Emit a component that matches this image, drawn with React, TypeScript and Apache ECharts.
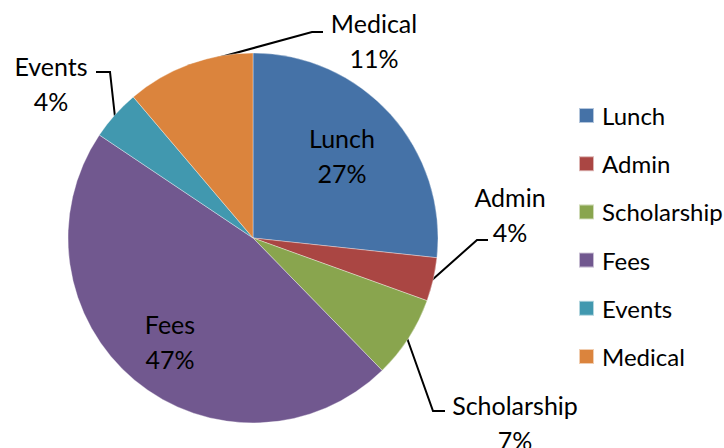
import React, { useEffect, useRef } from "react";
import * as echarts from "echarts";

const categories = ["Lunch", "Admin", "Scholarship", "Fees", "Events", "Medical"];
const values = [26.7, 3.8, 7.2, 46.7, 4.4, 11.2];
const colors = ["#4572A7", "#AA4643", "#89A54E", "#71588F", "#4198AF", "#DB843D"];
const insideLabels = ["Lunch", "Fees"];

// label layout (block centres and leader-line points), in px
const labelLayoutSpec: Record<string, { x: number; y: number; line?: number[][] }> = {
  Lunch: { x: 342, y: 155 },
  Fees: { x: 170, y: 341 },
  Admin: { x: 510, y: 214, line: [[432, 280], [477, 240], [488, 240]] },
  Scholarship: { x: 515, y: 422, line: [[407, 338], [433, 411], [445, 411]] },
  Events: { x: 51, y: 83, line: [[115, 117], [110, 72], [96, 72]] },
  Medical: { x: 374, y: 40, line: [[188, 66], [312, 32], [323, 32]] },
};

const FONT = "Lato, 'Open Sans', sans-serif";

export default function App() {
  const ref = useRef<HTMLDivElement>(null);
  useEffect(() => {
    if (!ref.current) return;
    const chart = echarts.init(ref.current, undefined, { renderer: "svg" });
    chart.setOption({
      animation: false,
      backgroundColor: "#ffffff",
      color: colors,
      legend: {
        orient: "vertical",
        left: 578,
        top: 103.5,
        padding: 0,
        icon: "rect",
        itemWidth: 15,
        itemHeight: 15,
        itemGap: 24.2,
        data: categories,
        textStyle: {
          fontFamily: FONT,
          fontSize: 24,
          lineHeight: 24,
          color: "#000",
          padding: [0, 0, 0, 3],
        },
      },
      series: [
        {
          type: "pie",
          center: [253, 238],
          radius: 185,
          startAngle: 90,
          clockwise: true,
          avoidLabelOverlap: false,
          itemStyle: { borderColor: "rgba(255,255,255,0.6)", borderWidth: 0.6 },
          label: {
            show: true,
            position: "outside",
            fontFamily: FONT,
            fontSize: 25,
            lineHeight: 35,
            color: "#000",
            align: "center",
            formatter: (p: any) => `${p.name}\n${Math.round(p.percent)}%`,
          },
          labelLine: {
            show: true,
            lineStyle: { color: "#000", width: 2 },
          },
          labelLayout: (p: any) => {
            const name = categories[p.dataIndex];
            const spec = labelLayoutSpec[name];
            const out: any = {
              x: spec.x,
              y: spec.y,
              align: "center",
              verticalAlign: "middle",
              hideOverlap: false,
            };
            if (spec.line) out.labelLinePoints = spec.line;
            return out;
          },
          data: categories.map((c, i) => ({
            name: c,
            value: values[i],
            labelLine: { show: !insideLabels.includes(c) },
          })),
        },
      ],
    });
    return () => chart.dispose();
  }, []);
  return (
    <div
      ref={ref}
      style={{ position: "absolute", left: 0, top: 0, width: 724, height: 448 }}
    />
  );
}
